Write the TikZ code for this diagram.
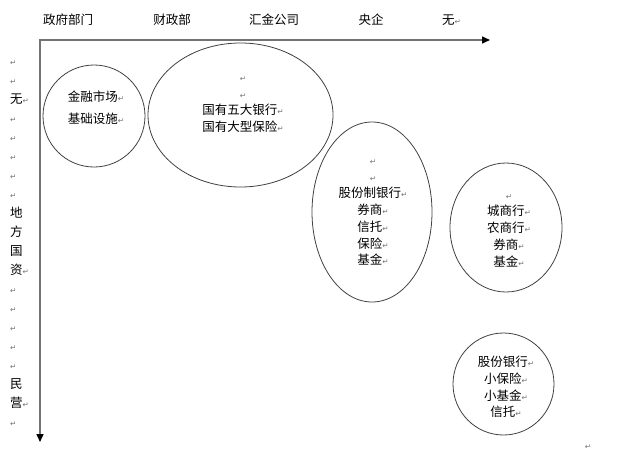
\documentclass[tikz,border=0pt]{standalone}
\usepackage{fontspec}
\setmainfont{Noto Sans CJK SC}
\newfontfamily\markfont{DejaVu Sans}
\usetikzlibrary{shapes.geometric,arrows.meta}
\newcommand{\pmark}{{\markfont\fontsize{7.5}{7.5}\selectfont\textcolor{black!55}{↵}}}
\newcommand{\blankline}{\vphantom{国}\pmark}

\begin{document}
\begin{tikzpicture}[x=1pt,y=-1pt]
\tikzstyle{lbl}=[inner sep=0pt,align=center,font=\fontsize{12.5}{16.7}\selectfont]
\tikzstyle{oval}=[draw=black!75,line width=0.8pt,ellipse,inner sep=0pt]
\tikzstyle{axis}=[draw=black!55,line width=1.5pt,line join=miter,{Triangle[color=black,length=8pt,width=7pt]}-{Triangle[color=black,length=8pt,width=7pt]}]
\useasboundingbox (0,0) rectangle (620,452);

% axes
\coordinate (o) at (40,40);
\coordinate (xend) at (490,40);
\coordinate (yend) at (40,442);
\draw[axis] (xend) -- (o) -- (yend);

% shareholders along the top
\node[lbl] (gov) at (68,20) {政府部门};
\node[lbl] (mof) at (172,20) {财政部};
\node[lbl] (huijin) at (274,20) {汇金公司};
\node[lbl] (soe) at (371,20) {央企};
\node[lbl,anchor=west] (nohold) at (442,20) {无\pmark};

% left column
\node[lbl,align=left,anchor=north west,font=\fontsize{12.5}{19}\selectfont] (owner) at (10,55) {\blankline\\\pmark\\无\pmark\\\pmark\\\pmark\\\pmark\\\pmark\\\pmark\\地\\方\\国\\资\pmark\\\pmark\\\pmark\\\pmark\\\pmark\\\pmark\\民\\营\pmark\\\pmark};

% groups
\node[oval,minimum width=102,minimum height=102] (infra) at (94,116) {};
\node[lbl,font=\fontsize{12.5}{22}\selectfont] (infratxt) at (96,108) {金融市场\pmark\\基础设施\pmark};

\node[oval,minimum width=185,minimum height=144] (bigfive) at (240.5,115) {};
\node[lbl] (bigfivetxt) at (243,102) {\blankline\\\blankline\\国有五大银行\pmark\\国有大型保险\pmark};

\node[oval,minimum width=120,minimum height=180] (joint) at (372,212) {};
\node[lbl] (jointtxt) at (373,210) {\blankline\\\blankline\\股份制银行\pmark\\券商\pmark\\信托\pmark\\保险\pmark\\基金\pmark};

\node[oval,minimum width=112,minimum height=129] (local) at (506,227.5) {};
\node[lbl] (localtxt) at (509,228) {\blankline\\城商行\pmark\\农商行\pmark\\券商\pmark\\基金\pmark};

\node[oval,minimum width=101,minimum height=102] (private) at (503.5,384) {};
\node[lbl] (privatetxt) at (506,387) {股份银行\pmark\\小保险\pmark\\小基金\pmark\\信托\pmark};

\node[lbl] (endmark) at (588,447) {\pmark};
\end{tikzpicture}
\end{document}
